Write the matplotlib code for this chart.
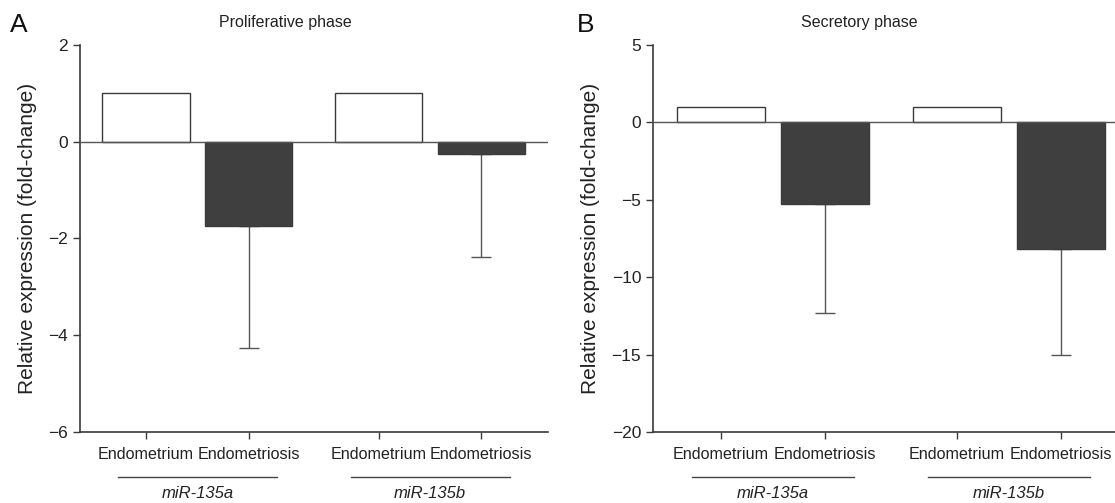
import matplotlib
matplotlib.use("Agg")
import matplotlib.pyplot as plt
import matplotlib.transforms as transforms
import numpy as np

plt.rcParams['font.family'] = ['Liberation Sans', 'DejaVu Sans']

# data
conditions = ['Endometrium', 'Endometriosis', 'Endometrium', 'Endometriosis']
groups = ['miR-135a', 'miR-135b']
x_pos = [0.0, 1.0, 2.27, 3.27]
group_centers = [0.5, 2.77]

prolif_mean = [1.0, -1.75, 1.0, -0.25]
prolif_err = [0.0, 2.51, 0.0, 2.13]
secret_mean = [1.0, -5.3, 1.0, -8.15]
secret_err = [0.0, 7.0, 0.0, 6.85]

bar_colors = ['white', '#3f3f3f', 'white', '#3f3f3f']
spine_col = '#3a3a3a'
text_col = '#222222'


def draw_panel(ax, mean, err, ylim, yticks, xlim, title, title_x, letter, letter_x, fig):
    ax.bar(x_pos, mean, width=0.85, color=bar_colors, edgecolor=spine_col,
           linewidth=1.0, zorder=2)
    # only the lower half of the error bars is shown
    x_e = [x for x, e in zip(x_pos, err) if e > 0]
    m_e = [m for m, e in zip(mean, err) if e > 0]
    e_e = [e for e in err if e > 0]
    ax.errorbar(x_e, m_e, yerr=[e_e, np.zeros(len(e_e))], fmt='none',
                ecolor='#555555', elinewidth=1.0, capsize=7.5, capthick=1.0, zorder=1)
    ax.axhline(0, color='#555555', linewidth=1.0, zorder=3)

    ax.set_xlim(*xlim)
    ax.set_ylim(*ylim)
    ax.set_yticks(yticks)
    ax.set_yticklabels([str(t).replace('-', '\u2212') for t in yticks], fontsize=12.5)
    ax.set_xticks(x_pos)
    ax.set_xticklabels(conditions, fontsize=11.6)
    ax.tick_params(axis='both', direction='out', length=5, width=1.0,
                   color=spine_col, labelcolor=text_col)
    ax.tick_params(axis='x', pad=6)
    for s in ['top', 'right']:
        ax.spines[s].set_visible(False)
    for s in ['left', 'bottom']:
        ax.spines[s].set_color(spine_col)
        ax.spines[s].set_linewidth(1.2)
    ax.set_ylabel('Relative expression (fold-change)', fontsize=15, color=text_col,
                  labelpad=8)

    # group underlines and italic gene names below the tick labels
    trans = transforms.blended_transform_factory(ax.transData, ax.transAxes)
    for c, g in zip(group_centers, groups):
        ax.plot([c - 0.775, c + 0.775], [-0.116, -0.116], color='#444444',
                linewidth=1.0, transform=trans, clip_on=False)
        ax.text(c, -0.158, g, transform=trans, ha='center', va='center',
                fontsize=12, style='italic', color=text_col)

    fig.text(title_x, 1 - 23 / 503, title, ha='center', va='center',
             fontsize=11.5, color=text_col)
    fig.text(letter_x, 1 - 25 / 503, letter, ha='left', va='center',
             fontsize=19, color='#111111')


fig = plt.figure(figsize=(11.15, 5.03), dpi=100)
ax_a = fig.add_axes([80 / 1115, 71 / 503, 468 / 1115, 387 / 503])
ax_b = fig.add_axes([653 / 1115, 71 / 503, 462 / 1115, 387 / 503])

draw_panel(ax_a, prolif_mean, prolif_err, (-6, 2), [-6, -4, -2, 0, 2],
           (-0.644, 3.92), 'Proliferative phase', 285 / 1115, 'A', 10 / 1115, fig)
draw_panel(ax_b, secret_mean, secret_err, (-20, 5), [-20, -15, -10, -5, 0, 5],
           (-0.654, 3.79), 'Secretory phase', 859 / 1115, 'B', 577 / 1115, fig)

fig.savefig('out.png', dpi=100)
